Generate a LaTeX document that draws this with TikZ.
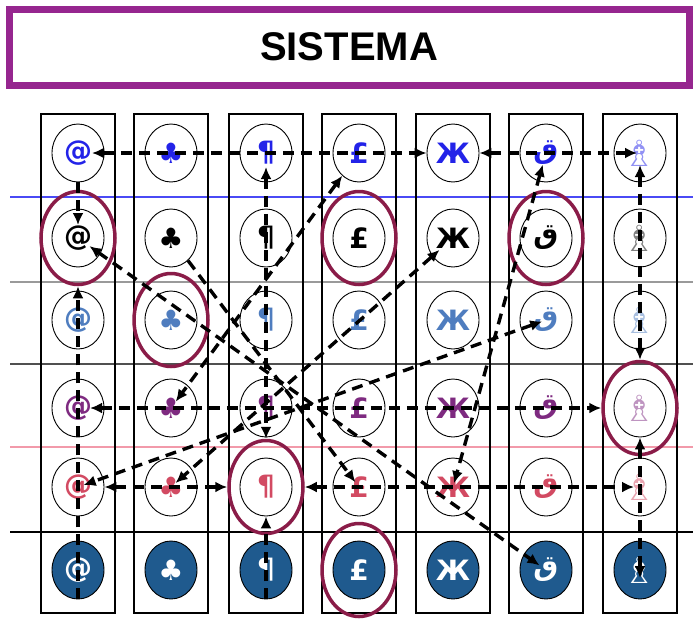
\documentclass[tikz,border=0pt]{standalone}
\usepackage{fontspec}
\setmainfont{Liberation Sans}
\newfontfamily\symfont{DejaVu Sans}
\newfontfamily\arabicfont[Script=Arabic]{DejaVu Sans}
\usetikzlibrary{arrows.meta,shapes.geometric}
\definecolor{titlepurple}{HTML}{96268F}
\definecolor{ringred}{HTML}{8A1C48}
\definecolor{deepblue}{HTML}{1F5A8E}
\definecolor{rowA}{HTML}{2323E8}
\definecolor{rowC}{HTML}{4F7DBF}
\definecolor{rowD}{HTML}{7E2A80}
\definecolor{rowE}{HTML}{D24A62}
\definecolor{lineblue}{HTML}{4A4AF5}
\definecolor{linegray}{HTML}{9A9A9A}
\definecolor{linedark}{HTML}{505050}
\definecolor{linepink}{HTML}{F29AAA}

\tikzset{
  titlebox/.style={draw=titlepurple,line width=7pt,minimum width=680pt,minimum height=76pt,
    font=\bfseries\fontsize{40}{40}\selectfont},
  colbox/.style={draw=black,line width=1.1pt},
  cell/.style={ellipse,draw=black,line width=0.9pt,minimum width=52pt,minimum height=58pt,inner sep=0pt,
    font=\symfont\bfseries\fontsize{28}{28}\selectfont},
  ring/.style={ellipse,draw=ringred,line width=3.5pt,minimum width=74pt,minimum height=93pt,inner sep=0pt},
  link/.style={line width=3.4pt,dash pattern=on 11pt off 7pt,
    {Latex[length=12pt,width=11pt]}-{Latex[length=12pt,width=11pt]}},
  linkto/.style={line width=3.4pt,dash pattern=on 11pt off 7pt,-{Latex[length=12pt,width=11pt]}}
}

\begin{document}
\begin{tikzpicture}[x=1pt,y=-1pt]
  \useasboundingbox (0,0) rectangle (693,625);
  \node[titlebox] (title) at (349,47) {SISTEMA};

  % row separators
  \draw[lineblue,line width=1.2pt] (10,197) -- (693,197);
  \draw[linegray,line width=1.2pt] (10,282) -- (693,282);
  \draw[linedark,line width=1.2pt] (10,364) -- (693,364);
  \draw[linepink,line width=1.2pt] (10,447) -- (693,447);
  \draw[black,line width=1.2pt] (10,532) -- (693,532);

  % columns of symbols
  \foreach \x/\g/\f [count=\c] in {78/@/100,171/♣/100,266/¶/100,359/£/100,453/Ж/100,
      546/{\arabicfont ق}/100,640/{\fontsize{36}{36}\selectfont ♗}/50}{
    \draw[colbox] (\x-37,114) rectangle (\x+37,613);
    \foreach \y/\col [count=\r] in {153/rowA,238/black,320/rowC,408/rowD,487/rowE}
      \node[cell,text=\col!\f] (c\c-\r) at (\x,\y) {\g};
    \node[cell,fill=deepblue,text=white] (c\c-6) at (\x,570) {\g};
  }

  % chosen symbols
  \foreach \c/\r in {1/2,2/3,4/2,6/2,3/5,4/6,7/4}
    \node[ring] (ring\c-\r) at (c\c-\r) {};

  % horizontal and vertical links
  \draw[link,shorten <=14pt] (c1-1.center) -- (c5-1);
  \draw[link,shorten >=3pt] (c5-1) -- (c7-1.center);
  \draw[linkto,shorten >=13pt] (c1-1) -- (c1-2.center);
  \draw[linkto] (c1-6.south) -- (ring1-2);
  \draw[link,shorten <=12pt] (c1-4.center) -- (ring7-4);
  \draw[link] (c1-5) -- (ring3-5);
  \draw[link,shorten >=6pt] (ring3-5) -- (c7-5.center);
  \draw[link,shorten <=14pt] (c3-1.center) -- (ring3-5);
  \draw[linkto] (c3-6.south) -- (c3-5);
  \draw[link,shorten <=12pt] (c7-1.center) -- (ring7-4);
  \draw[link,shorten >=-8pt] (c7-4) -- (c7-6.center);

  % diagonal links
  \draw[link,shorten >=8pt] (c4-1) -- (c2-4.center);
  \draw[link,shorten <=18pt,shorten >=6pt] (c5-2.center) -- (c2-5.center);
  \draw[link,shorten <=4pt,shorten >=6pt] (c6-3.center) -- (c1-5.center);
  \draw[link,shorten <=12pt,shorten >=4pt] (c6-1.center) -- (c5-5.center);
  \draw[link,shorten <=14pt,shorten >=8pt] (c1-2.center) -- (c6-6.center);
  \draw[linkto,shorten >=6pt] (c2-2) -- (c4-5.center);
\end{tikzpicture}
\end{document}
